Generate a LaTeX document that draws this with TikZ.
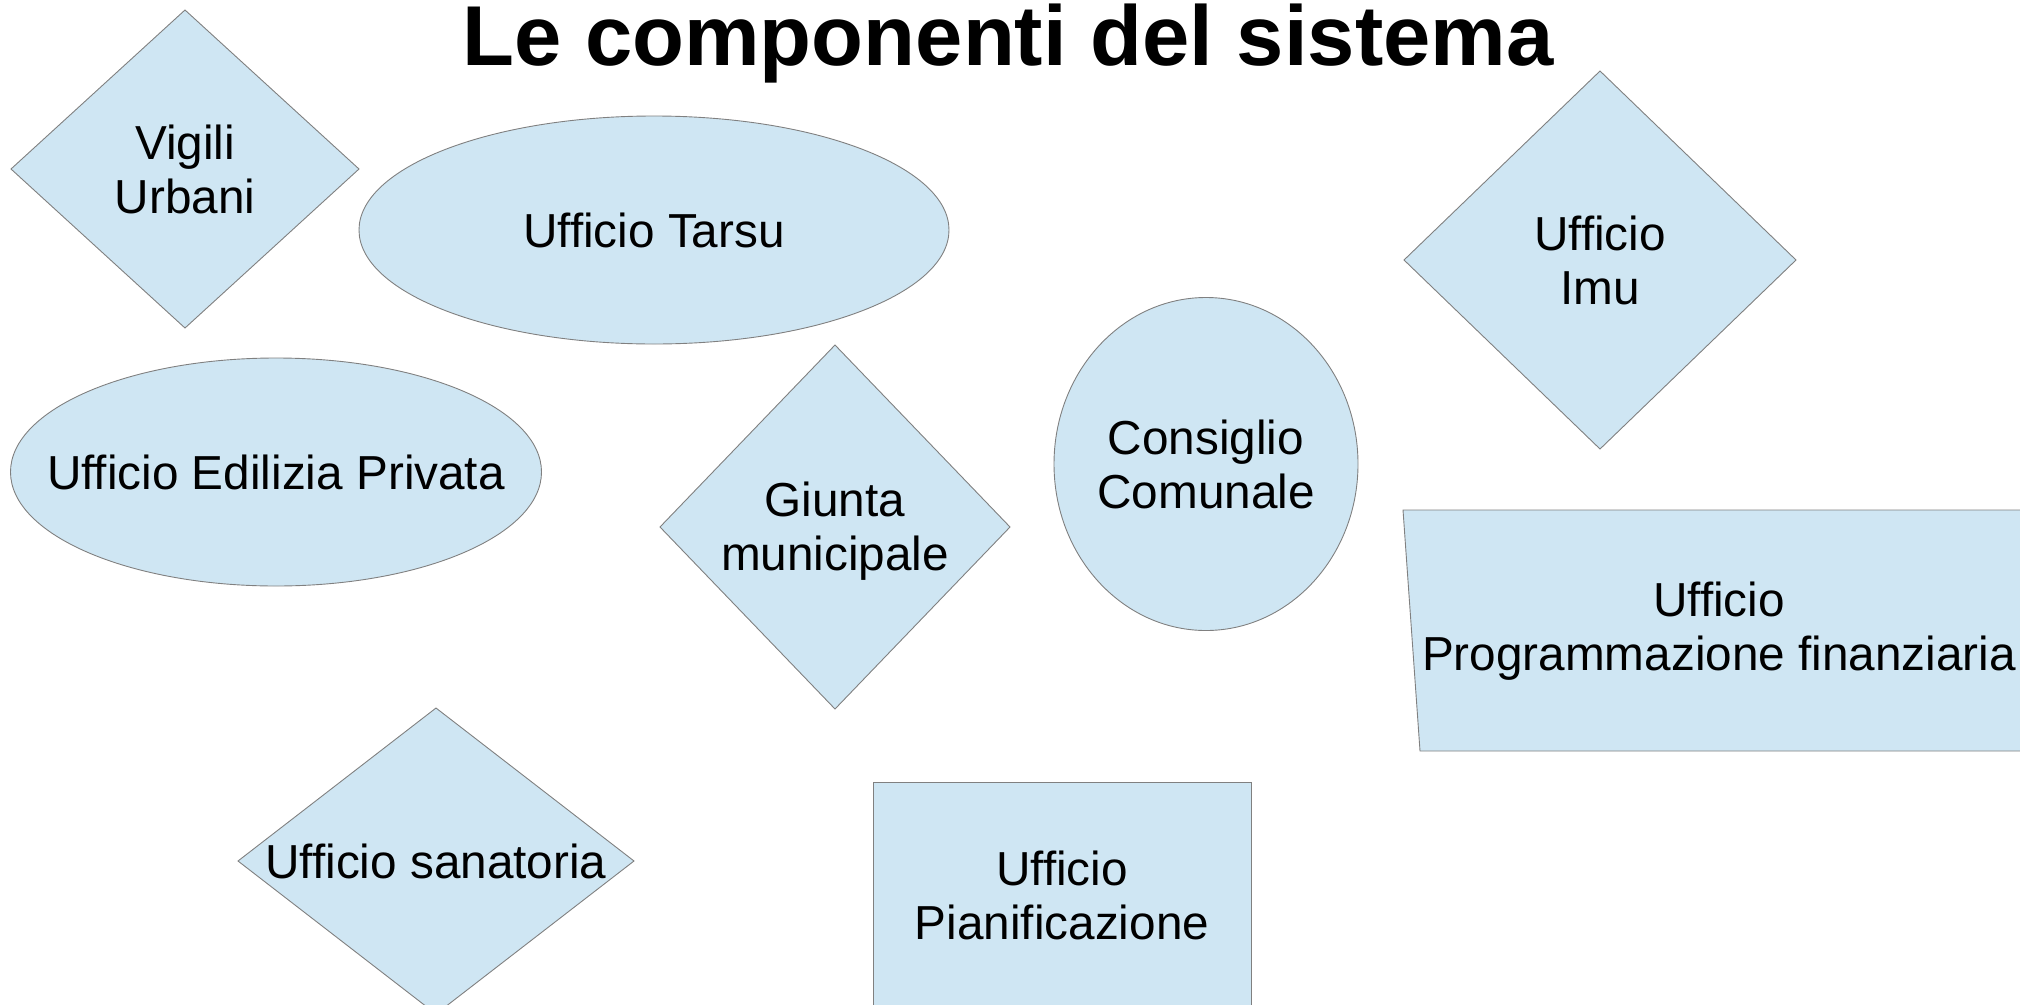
\documentclass[tikz,border=0pt]{standalone}
\usepackage{fontspec}
\setmainfont{Liberation Sans}
\usetikzlibrary{shapes.geometric}
\definecolor{boxfill}{RGB}{207,230,243}
\definecolor{boxline}{RGB}{128,128,128}
\begin{document}
\begin{tikzpicture}[x=1pt,y=-1pt,
  shp/.style={draw=boxline, fill=boxfill, line width=0.9pt, inner sep=0pt, outer sep=0pt},
  dia/.style={shp, diamond},
  ell/.style={shp, ellipse},
  lbl/.style={font=\fontsize{47.7}{54}\selectfont, align=center, inner sep=0pt, text=black}]
\useasboundingbox (0,0) rectangle (2020,1004);
\clip (0,0) rectangle (2020,1004);

% title
\node[anchor=base, inner sep=0pt, font=\fontsize{85}{100}\selectfont\bfseries] (title) at (1008,65) {Le componenti del sistema};

% shapes
\node[dia, minimum width=348pt, minimum height=318pt] (vu) at (185,169) {};
\node[ell, minimum width=590pt, minimum height=228pt] (tarsu) at (654,230) {};
\node[dia, minimum width=392pt, minimum height=378pt] (imu) at (1600,260) {};
\node[ell, minimum width=531pt, minimum height=228pt] (edil) at (276,472) {};
\node[dia, minimum width=350pt, minimum height=364pt] (giunta) at (835,527) {};
\node[ell, minimum width=304pt, minimum height=333pt] (cons) at (1206,464) {};
\node[dia, minimum width=396pt, minimum height=306pt] (san) at (436,861) {};
\node[shp, rectangle, minimum width=378pt, minimum height=226pt] (pian) at (1062,895) {};
\coordinate (p1) at (1403,510);
\coordinate (p2) at (2070,510);
\coordinate (p3) at (2070,751);
\coordinate (p4) at (1420,751);
\path[shp] (p1) -- (p2) -- (p3) -- (p4) -- cycle;
\coordinate (prog) at (1719,631);

% labels
\node[lbl] (vut) at (vu) {Vigili\\Urbani};
\node[lbl] (tarsut) at (tarsu) {Ufficio Tarsu};
\node[lbl] (imut) at (imu) {Ufficio\\Imu};
\node[lbl] (edilt) at (edil) {Ufficio Edilizia Privata};
\node[lbl] (giuntat) at ([yshift=-4pt]giunta) {Giunta\\municipale};
\node[lbl] (const) at (cons) {Consiglio\\Comunale};
\node[lbl] (sant) at (san) {Ufficio sanatoria};
\node[lbl] (piant) at (pian) {Ufficio\\Pianificazione};
\node[lbl] (progt) at (prog) {Ufficio\\Programmazione finanziaria};
\end{tikzpicture}
\end{document}
